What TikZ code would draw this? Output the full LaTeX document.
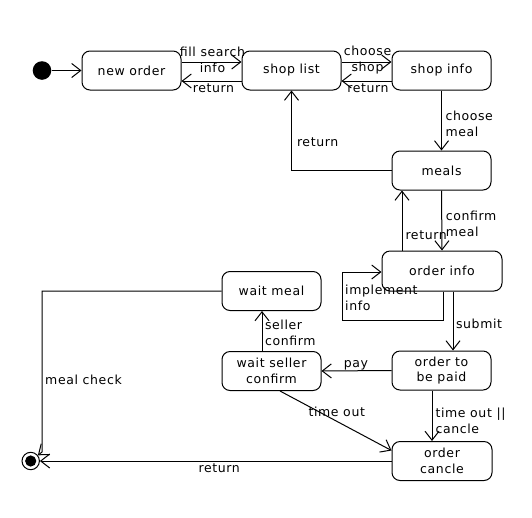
\documentclass[tikz,border=0pt]{standalone}
\usepackage{fontspec}
\setmainfont[LetterSpace=5]{DejaVu Sans}
\usetikzlibrary{arrows.meta}
\begin{document}
\begin{tikzpicture}[x=1pt,y=-1pt,
  every node/.style={font=\fontsize{12.5}{15.5}\selectfont},
  state/.style={draw,line width=1pt,rounded corners=8pt,minimum width=99pt,minimum height=39pt,align=center,inner sep=1pt},
  arr/.style={line width=1pt,-{Straight Barb[length=9pt,width=14pt,line width=1pt]}},
  lbl/.style={inner sep=0pt,align=left}]
\useasboundingbox (0,0) rectangle (532,517);
\node[circle,fill=black,minimum size=18.6pt,inner sep=0pt] (init) at (42,70.5) {};
\node[state] (neworder) at (131.5,70.5) {new order};
\node[state] (shoplist) at (291.5,70.5) {shop list};
\node[state] (shopinfo) at (441.5,70.5) {shop info};
\node[state] (meals) at (441.5,170.5) {meals};
\node[state,minimum width=120pt,minimum height=40pt] (orderinfo) at (442,271) {order info};
\node[state] (topaid) at (441.5,370.5) {order to\\be paid};
\node[state,minimum width=100pt] (cancle) at (442,461) {order\\cancle};
\node[state] (waitseller) at (271.5,371) {wait seller\\confirm};
\node[state] (waitmeal) at (271.5,291) {wait meal};
\node[circle,draw,line width=1pt,fill=white,minimum size=17.4pt,inner sep=0pt] (final) at (30.7,461) {};
\fill (final) circle (5.6pt);
\coordinate (loopc) at (342,320);
\coordinate (mc) at (42,452);

\draw[arr] (init) -- (neworder);
\draw[arr] ([yshift=8.5pt]neworder.east) -- node[lbl,align=center,yshift=2pt,xshift=1pt]{fill search\\info} ([yshift=8.5pt]shoplist.west);
\draw[arr] ([yshift=-10.5pt]shoplist.west) -- node[lbl,yshift=-7pt,xshift=2pt]{return} ([yshift=-10.5pt]neworder.east);
\draw[arr] ([yshift=8.5pt]shoplist.east) -- node[lbl,align=center,yshift=2pt,xshift=1pt]{choose\\shop} ([yshift=8.5pt]shopinfo.west);
\draw[arr] ([yshift=-10.5pt]shopinfo.west) -- node[lbl,yshift=-7pt,xshift=1.5pt]{return} ([yshift=-10.5pt]shoplist.east);
\draw[arr] (shopinfo.south) -- node[lbl,anchor=west,xshift=3.5pt,yshift=-3.5pt]{choose\\meal} (meals.north);
\draw[arr] (meals.west) -| node[lbl,pos=0.75,anchor=west,xshift=5pt,yshift=-11.5pt]{return} (shoplist.south);
\draw[arr] (meals.south) -- node[lbl,anchor=west,xshift=3.5pt,yshift=-3.5pt]{confirm\\meal} (orderinfo.north);
\draw[arr] ([xshift=-40pt]orderinfo.north) -- node[lbl,pos=0.25,anchor=west,xshift=3pt]{return} ([xshift=-39.5pt]meals.south);
\draw[arr] ([xshift=1pt]orderinfo.south) |- (loopc) |- ([yshift=-1pt]orderinfo.west);
\node[lbl,anchor=north west] (implbl) at (345,285) {implement\\info};
\draw[arr] ([xshift=11pt]orderinfo.south) -- node[lbl,anchor=west,xshift=2.5pt,yshift=-3pt]{submit} ([xshift=11.5pt]topaid.north);
\draw[arr] (topaid.west) -- node[lbl,yshift=5pt,xshift=-0.5pt]{pay} (waitseller.east);
\draw[arr] ([xshift=-9.5pt]waitseller.north) -- node[lbl,anchor=west,xshift=2.5pt,yshift=-2pt]{seller\\confirm} ([xshift=-9.5pt]waitmeal.south);
\draw[arr] ([xshift=8.5pt]waitseller.south) -- node[lbl,pos=0.5,xshift=1pt,yshift=9pt]{time out} ([yshift=10.5pt]cancle.west);
\draw[arr] ([xshift=-9.5pt]topaid.south) -- node[lbl,anchor=west,xshift=3pt,yshift=-5pt]{time out ||\\cancle} ([xshift=-10pt]cancle.north);
\draw[arr] (cancle.west) -- node[lbl,pos=0.49,yshift=-7pt]{return} (final);
\draw[arr] (waitmeal.west) -| (mc) -- (final);
\node[lbl,anchor=west] (mclbl) at (45,379.5) {meal check};
\end{tikzpicture}
\end{document}
